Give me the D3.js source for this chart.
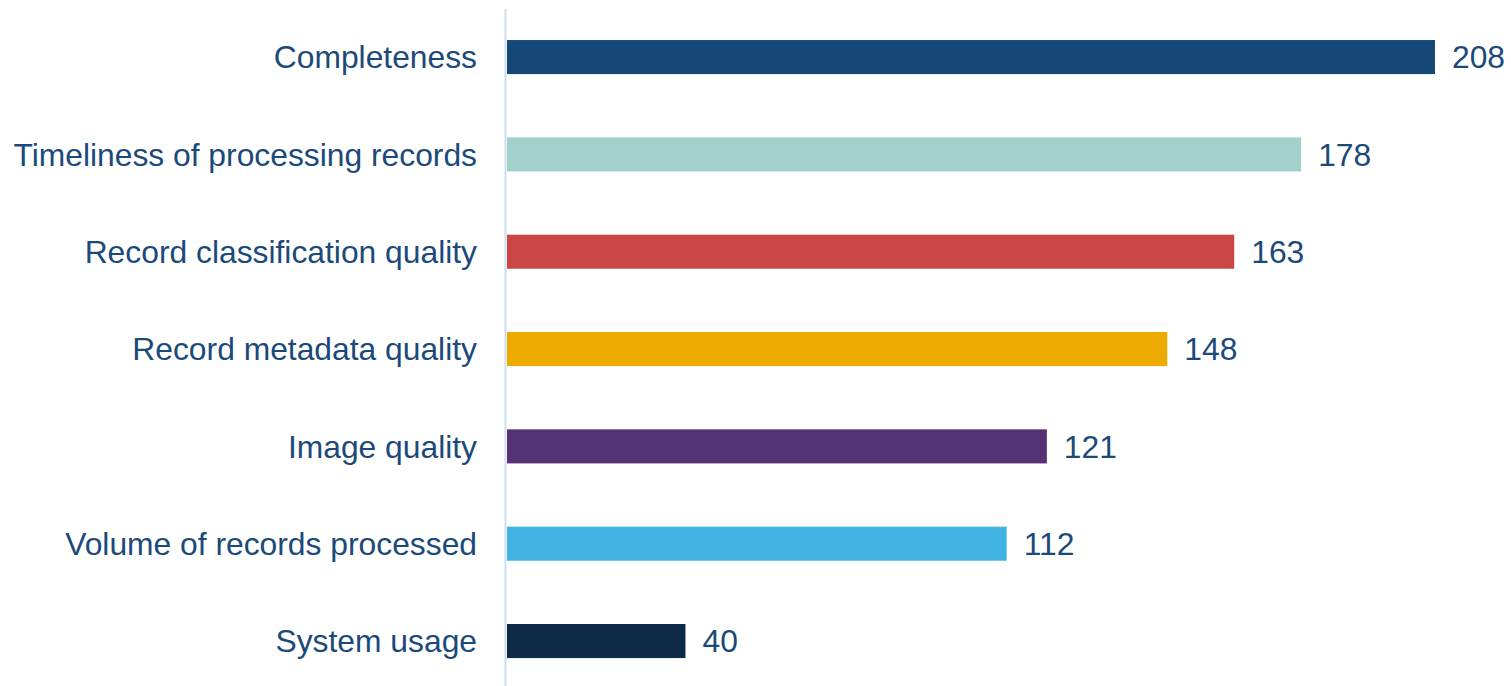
<!DOCTYPE html>
<html><head><meta charset="utf-8">
<script src="https://cdn.jsdelivr.net/npm/d3@7"></script>
<style>body{margin:0;background:#fff}svg{display:block}</style>
</head><body>
<svg id="c" width="1511" height="686"></svg>
<script>
const categories = ["Completeness","Timeliness of processing records","Record classification quality","Record metadata quality","Image quality","Volume of records processed","System usage"];
const values = [208,178,163,148,121,112,40];
const colors = ["#154777","#a2d0ca","#ca4745","#edab00","#563173","#40b3e3","#0e2a47"];

const svg = d3.select("#c");
const x0 = 507, pxPerUnit = 928/208;
const x = d3.scaleLinear().domain([0,208]).range([x0, x0 + 208*pxPerUnit]);
const y = d3.scaleBand().domain(categories).range([8.4, 689.7]).paddingInner(0.65).paddingOuter(0.325);
const textColor = "#1b4a7a";
const font = "Liberation Sans, Arial, sans-serif";

svg.selectAll("rect.bar").data(categories).join("rect")
  .attr("class","bar")
  .attr("x", x(0)).attr("y", d=>y(d))
  .attr("width", (d,i)=>x(values[i])-x(0)).attr("height", y.bandwidth())
  .attr("fill", (d,i)=>colors[i]);

svg.append("line").attr("x1",505.5).attr("x2",505.5).attr("y1",9).attr("y2",686)
  .attr("stroke","#c9dff1").attr("stroke-width",2);

svg.selectAll("text.cat").data(categories).join("text")
  .attr("class","cat")
  .attr("x", 477).attr("y", d=>y(d)+y.bandwidth()/2)
  .attr("dy","0.35em").attr("text-anchor","end")
  .attr("font-family",font).attr("font-size",31.8).attr("fill",textColor)
  .text(d=>d);

svg.selectAll("text.val").data(categories).join("text")
  .attr("class","val")
  .attr("x", (d,i)=>x(values[i])+17).attr("y", d=>y(d)+y.bandwidth()/2)
  .attr("dy","0.35em")
  .attr("font-family",font).attr("font-size",31.8).attr("fill",textColor)
  .text((d,i)=>values[i]);
</script>
</body></html>
